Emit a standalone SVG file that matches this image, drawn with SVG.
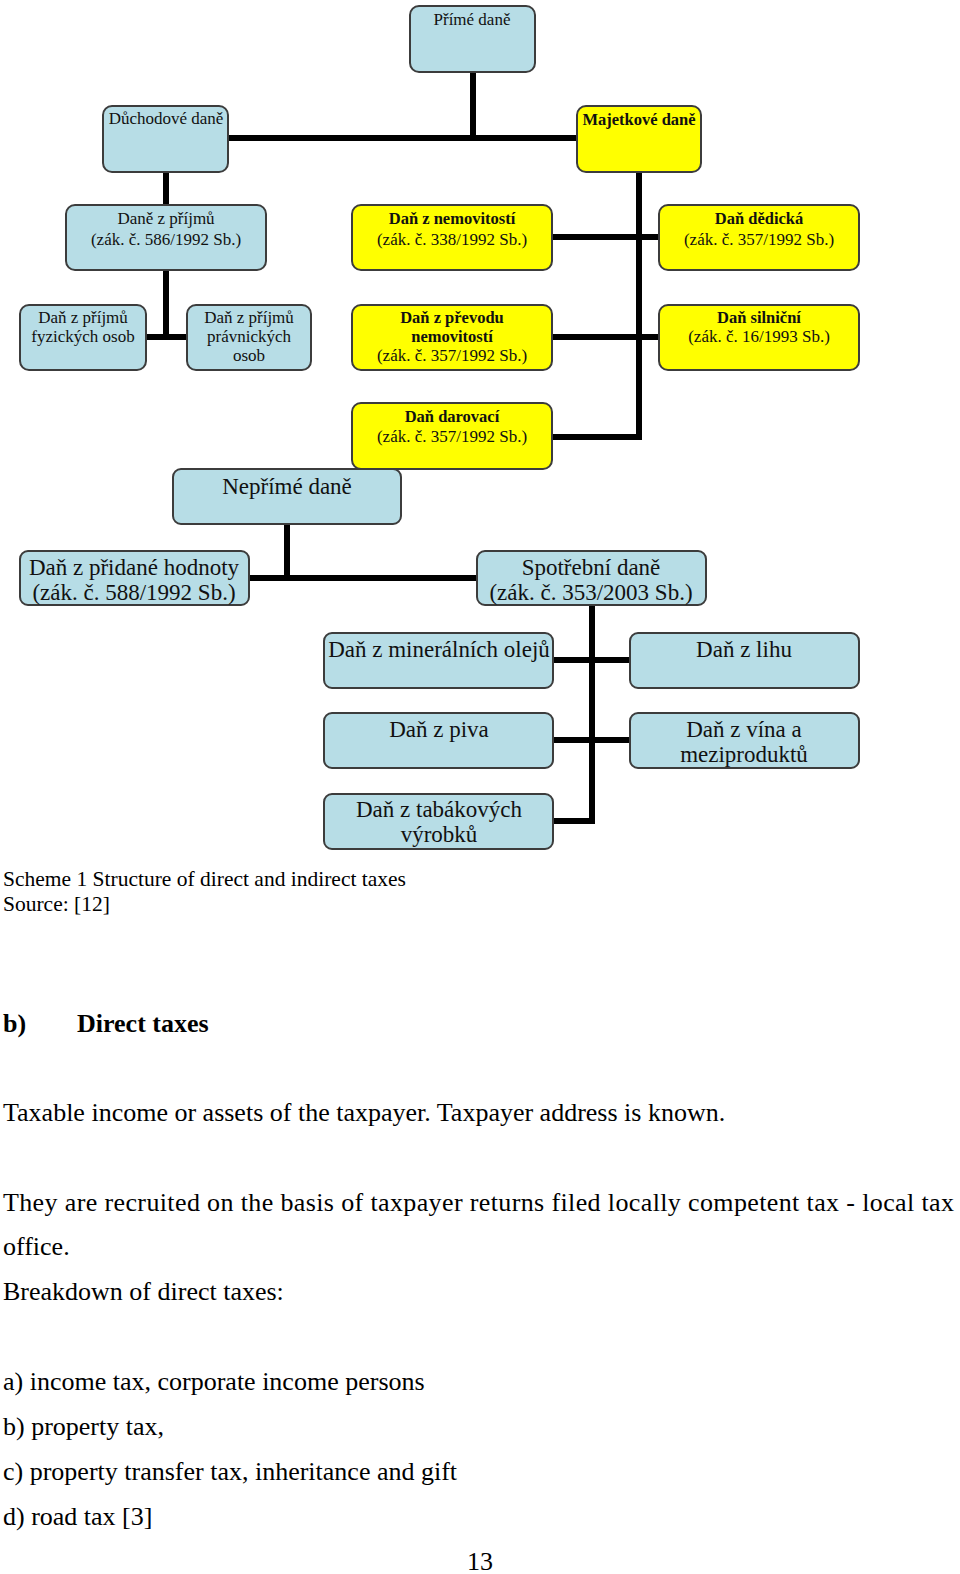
<svg xmlns="http://www.w3.org/2000/svg" width="960" height="1574" viewBox="0 0 960 1574">
<style>
.b{fill:#b7dde6;stroke:#3c3c3c;stroke-width:2}
.y{fill:#ffff00;stroke:#3c3c3c;stroke-width:2}
.s{font-family:"Liberation Serif",serif;font-size:17px;fill:#111;text-anchor:middle}
.sb{font-family:"Liberation Serif",serif;font-size:16.5px;font-weight:bold;fill:#111;text-anchor:middle}
.l{font-family:"Liberation Serif",serif;font-size:23px;fill:#111;text-anchor:middle}
.c line{stroke:#000;stroke-width:6}
.t{font-family:"Liberation Serif",serif;font-size:26px;fill:#000}
.cap{font-family:"Liberation Serif",serif;font-size:21.5px;fill:#000}
</style>
<rect width="960" height="1574" fill="#fff"/>
<g class="c" id="connectors">
<line x1="473" y1="72" x2="473" y2="140"/>
<line x1="228" y1="138" x2="577" y2="138" stroke-width="7"/>
<line x1="166" y1="172" x2="166" y2="205"/>
<line x1="166" y1="270" x2="166" y2="340"/>
<line x1="146" y1="337" x2="187" y2="337" stroke-width="7"/>
<line x1="639" y1="172" x2="639" y2="440"/>
<line x1="551" y1="237" x2="659" y2="237" stroke-width="7"/>
<line x1="551" y1="337" x2="659" y2="337" stroke-width="7"/>
<line x1="551" y1="437" x2="642" y2="437"/>
<line x1="287" y1="524" x2="287" y2="578"/>
<line x1="249" y1="578" x2="477" y2="578"/>
<line x1="592" y1="605" x2="592" y2="824"/>
<line x1="553" y1="660" x2="630" y2="660" stroke-width="7"/>
<line x1="553" y1="740" x2="630" y2="740" stroke-width="7"/>
<line x1="553" y1="821" x2="595" y2="821"/>
</g>
<g id="n-prime"><rect class="b" x="410" y="6" width="125" height="66" rx="9"/><text class="s" x="472" y="25">Přímé daně</text></g>
<g id="n-duchodove"><rect class="b" x="103" y="106" width="125" height="66" rx="9"/><text class="s" x="166" y="124">Důchodové daně</text></g>
<g id="n-majetkove"><rect class="y" x="577" y="106" width="124" height="66" rx="9"/><text class="sb" x="639" y="125">Majetkové daně</text></g>
<g id="n-prijmu"><rect class="b" x="66" y="205" width="200" height="65" rx="9"/><text class="s" x="166" y="224">Daně z příjmů</text><text class="s" x="166" y="245">(zák. č. 586/1992 Sb.)</text></g>
<g id="n-nemovitosti"><rect class="y" x="352" y="205" width="200" height="65" rx="9"/><text class="sb" x="452" y="224">Daň z nemovitostí</text><text class="s" x="452" y="245">(zák. č. 338/1992 Sb.)</text></g>
<g id="n-dedicka"><rect class="y" x="659" y="205" width="200" height="65" rx="9"/><text class="sb" x="759" y="224">Daň dědická</text><text class="s" x="759" y="245">(zák. č. 357/1992 Sb.)</text></g>
<g id="n-fyzickych"><rect class="b" x="20" y="305" width="126" height="65" rx="9"/><text class="s" x="83" y="323">Daň z příjmů</text><text class="s" x="83" y="342">fyzických osob</text></g>
<g id="n-pravnickych"><rect class="b" x="187" y="305" width="124" height="65" rx="9"/><text class="s" x="249" y="323">Daň z příjmů</text><text class="s" x="249" y="342">právnických</text><text class="s" x="249" y="361">osob</text></g>
<g id="n-prevodu"><rect class="y" x="352" y="305" width="200" height="65" rx="9"/><text class="sb" x="452" y="323">Daň z převodu</text><text class="sb" x="452" y="342">nemovitostí</text><text class="s" x="452" y="361">(zák. č. 357/1992 Sb.)</text></g>
<g id="n-silnicni"><rect class="y" x="659" y="305" width="200" height="65" rx="9"/><text class="sb" x="759" y="323">Daň silniční</text><text class="s" x="759" y="342">(zák. č. 16/1993 Sb.)</text></g>
<g id="n-darovaci"><rect class="y" x="352" y="403" width="200" height="66" rx="9"/><text class="sb" x="452" y="422">Daň darovací</text><text class="s" x="452" y="442">(zák. č. 357/1992 Sb.)</text></g>
<g id="n-neprime"><rect class="b" x="173" y="469" width="228" height="55" rx="8"/><text class="l" x="287" y="494">Nepřímé daně</text></g>
<g id="n-dph"><rect class="b" x="20" y="551" width="229" height="54" rx="8"/><text class="l" x="134" y="575">Daň z přidané hodnoty</text><text class="l" x="134" y="600">(zák. č. 588/1992 Sb.)</text></g>
<g id="n-spotrebni"><rect class="b" x="477" y="551" width="229" height="54" rx="8"/><text class="l" x="591" y="575">Spotřební daně</text><text class="l" x="591" y="600">(zák. č. 353/2003 Sb.)</text></g>
<g id="n-mineralni"><rect class="b" x="324" y="633" width="229" height="55" rx="8"/><text class="l" x="439" y="657">Daň z minerálních olejů</text></g>
<g id="n-lihu"><rect class="b" x="630" y="633" width="229" height="55" rx="8"/><text class="l" x="744" y="657">Daň z lihu</text></g>
<g id="n-piva"><rect class="b" x="324" y="713" width="229" height="55" rx="8"/><text class="l" x="439" y="737">Daň z piva</text></g>
<g id="n-vina"><rect class="b" x="630" y="713" width="229" height="55" rx="8"/><text class="l" x="744" y="737">Daň z vína a</text><text class="l" x="744" y="762">meziproduktů</text></g>
<g id="n-tabak"><rect class="b" x="324" y="794" width="229" height="55" rx="8"/><text class="l" x="439" y="817">Daň z tabákových</text><text class="l" x="439" y="842">výrobků</text></g>
<g id="body">
<text class="cap" x="3" y="886">Scheme 1 Structure of direct and indirect taxes</text>
<text class="cap" x="3" y="911">Source: [12]</text>
<text class="t" x="3" y="1032" font-weight="bold">b)</text>
<text class="t" x="77" y="1032" font-weight="bold">Direct taxes</text>
<text class="t" x="3" y="1121">Taxable income or assets of the taxpayer. Taxpayer address is known.</text>
<text class="t" x="3" y="1211" textLength="951" lengthAdjust="spacing">They are recruited on the basis of taxpayer returns filed locally competent tax - local tax</text>
<text class="t" x="3" y="1255">office.</text>
<text class="t" x="3" y="1300">Breakdown of direct taxes:</text>
<text class="t" x="3" y="1390">a) income tax, corporate income persons</text>
<text class="t" x="3" y="1435">b) property tax,</text>
<text class="t" x="3" y="1480">c) property transfer tax, inheritance and gift</text>
<text class="t" x="3" y="1525">d) road tax [3]</text>
<text class="t" x="480" y="1570" text-anchor="middle">13</text>
</g>
</svg>
